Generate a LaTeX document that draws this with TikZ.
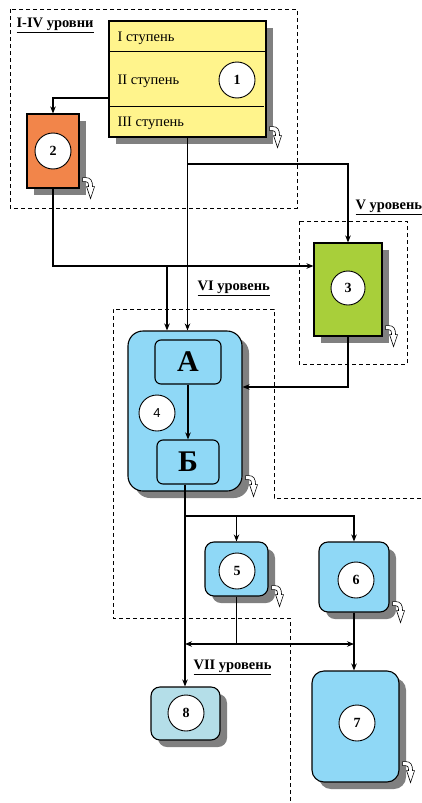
\documentclass[tikz,border=0pt]{standalone}
\usepackage{fontspec}
\setmainfont{Liberation Serif}
\newfontfamily\numfont{Liberation Sans}
\usepackage{tikz}
\usetikzlibrary{arrows.meta,shadows,positioning}
\definecolor{yellowbox}{HTML}{FFF48C}
\definecolor{orangebox}{HTML}{F2854A}
\definecolor{greenbox}{HTML}{A8CF3A}
\definecolor{bluebox}{HTML}{8FD8F6}
\definecolor{paleblue}{HTML}{B4DEE8}
\definecolor{shadowgray}{HTML}{808080}
\tikzstyle{box} = [rectangle, draw, line width=1.1pt, inner sep=0pt, drop shadow={shadow xshift=7pt,shadow yshift=-7pt,fill=shadowgray,opacity=1}]
\tikzstyle{rbox} = [box, rounded corners=9pt]
\tikzstyle{inbox} = [rectangle, draw, line width=1.1pt, rounded corners=6pt, inner sep=0pt, font=\bfseries\fontsize{30}{30}\selectfont]
\tikzstyle{num} = [circle, draw, line width=0.9pt, fill=white, minimum size=36pt, inner sep=0pt, font=\bfseries\fontsize{14}{14}\selectfont]
\tikzstyle{stage} = [anchor=west, inner sep=0pt, font=\fontsize{14.5}{16}\selectfont]
\tikzstyle{level} = [anchor=west, inner sep=0pt, font=\bfseries\fontsize{14.5}{16}\selectfont]
\tikzstyle{zone} = [draw, line width=0.9pt, dash pattern=on 4pt off 3pt]
\newcommand{\turnarrow}[1]{\draw[fill=white, line width=0.6pt, shift={(#1)}] (3pt,11pt) -- (6pt,11pt) .. controls (11pt,11pt) and (13pt,8pt) .. (13pt,2pt) -- (15pt,2pt) -- (11pt,-10pt) -- (7pt,2pt) -- (9pt,2pt) .. controls (9pt,6pt) and (8pt,7pt) .. (6pt,7pt) -- (3pt,7pt) -- cycle;}

\begin{document}
\begin{tikzpicture}[>={Stealth[length=7pt,width=5.5pt]}, line width=1.1pt]
  \useasboundingbox (0pt,0pt) rectangle (421pt,-803pt);
  % zones
  \path[zone] (10pt,-9pt) rectangle (297pt,-208pt);
  \path[zone] (299pt,-221pt) rectangle (407pt,-364pt);
  \path[zone] (421pt,-498pt) -- (274pt,-498pt) -- (274pt,-309pt) -- (113pt,-309pt) -- (113pt,-618pt) -- (290pt,-618pt) -- (290pt,-803pt);
  \draw (16pt,-25pt) node[level](l14){\underline{I-IV уровни}};
  \draw (355pt,-207pt) node[level](l5){\underline{V уровень}};
  \draw (197pt,-288pt) node[level](l6){\underline{VI уровень}};
  \draw (193pt,-667pt) node[level](l7){\underline{VII уровень}};
  % boxes
  \draw (187.5pt,-79pt) node[box, fill=yellowbox, minimum width=157pt, minimum height=116pt](box1){};
  \draw ([yshift=-31pt]box1.north west) -- ([yshift=-31pt]box1.north east);
  \draw ([yshift=-86pt]box1.north west) -- ([xshift=-3pt,yshift=-86pt]box1.north east);
  \draw (117pt,-38pt) node[stage](s1){I ступень};
  \draw (117pt,-81pt) node[stage](s2){II ступень};
  \draw (117pt,-123pt) node[stage](s3){III ступень};
  \draw (237pt,-80pt) node[num](n1){1};
  \draw (53pt,-151pt) node[box, fill=orangebox, minimum width=52pt, minimum height=74pt](box2){};
  \draw (53pt,-151pt) node[num](n2){2};
  \draw (348pt,-289.5pt) node[box, fill=greenbox, minimum width=68pt, minimum height=93pt](box3){};
  \draw (348pt,-288pt) node[num, minimum size=34pt](n3){3};
  \draw (185pt,-411pt) node[box, fill=bluebox, rounded corners=15pt, minimum width=114pt, minimum height=160pt](box4){};
  \draw (188pt,-362pt) node[inbox, minimum width=66pt, minimum height=44pt](A){А};
  \draw (188pt,-462pt) node[inbox, minimum width=62pt, minimum height=44pt](B){Б};
  \draw (157pt,-413pt) node[num, font=\numfont\fontsize{13}{13}\selectfont](n4){4};
  \draw (236.5pt,-569pt) node[rbox, fill=bluebox, minimum width=63pt, minimum height=54pt](box5){};
  \draw (237pt,-571pt) node[num](n5){5};
  \draw (354pt,-577pt) node[rbox, fill=bluebox, minimum width=70pt, minimum height=70pt](box6){};
  \draw (356pt,-580pt) node[num](n6){6};
  \draw (355.5pt,-726.5pt) node[rbox, rounded corners=12pt, fill=bluebox, minimum width=87pt, minimum height=111pt](box7){};
  \draw (357pt,-723pt) node[num](n7){7};
  \draw (185.5pt,-713.5pt) node[rbox, fill=paleblue, minimum width=69pt, minimum height=53pt](box8){};
  \draw (186pt,-713pt) node[num](n8){8};
  \turnarrow{box1.south east}
  \turnarrow{box2.south east}
  \turnarrow{box3.south east}
  \turnarrow{[yshift=5pt]box4.south east}
  \turnarrow{box5.south east}
  \turnarrow{box6.south east}
  \turnarrow{[yshift=10pt]box7.south east}
  % connectors
  \coordinate (j1) at (0pt,-164pt);
  \coordinate (j2) at (0pt,-266pt);
  \coordinate (j3) at (167pt,-266pt);
  \coordinate (j4) at (0pt,-387pt);
  \coordinate (j5) at (185pt,-516pt);
  \coordinate (j6) at (0pt,-644pt);
  \draw[->] ([yshift=-19pt]box1.west) -| (box2.north);
  \draw[->] (box1.south) -- (box1.south |- box4.north);
  \draw[->] (box1.south |- j1) -| (box3.north);
  \draw[->] (box2.south) |- (box3.west |- j2);
  \draw[->] (j3) -- (j3 |- box4.north);
  \draw[->] (box3.south) |- (box4.east |- j4);
  \draw[->] (A) -- (B);
  \draw (B.south -| j5) -- (j5);
  \draw[->] (j5) -- (j5 |- box8.north);
  \draw[->] (j5) -| (box5.north);
  \draw[->] (j5) -| (box6.north);
  \draw (box5.south) -- (box5.south |- j6);
  \draw[<->] (j5 |- j6) -- (box6.south |- j6);
  \draw[->] (box6.south) -- (box6.south |- box7.north);
\end{tikzpicture}
\end{document}
